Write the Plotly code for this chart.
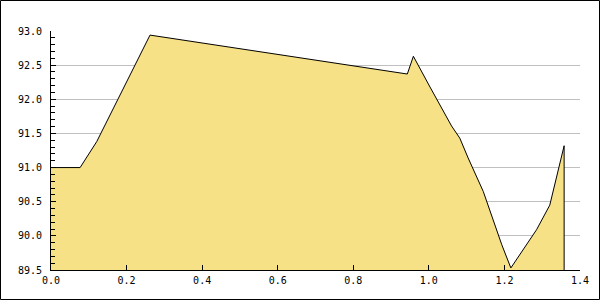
import plotly.graph_objects as go

x_vals = [0.0, 0.077, 0.121, 0.262, 0.943, 0.959, 1.003, 1.021, 1.060, 1.082,
          1.104, 1.144, 1.193, 1.217, 1.285, 1.320, 1.358, 1.358]
y_vals = [91.0, 91.0, 91.38, 92.94, 92.37, 92.63, 92.18, 92.0, 91.61, 91.43,
          91.14, 90.65, 89.87, 89.53, 90.09, 90.45, 91.32, 89.5]

x_range = [0.0, 1.4]
y_range = [89.5, 93.0]

fill_color = "rgb(247,225,134)"

fig = go.Figure()
fig.add_trace(go.Scatter(
    x=x_vals, y=y_vals, mode="lines",
    line=dict(color="black", width=1),
    fill="tozeroy", fillcolor=fill_color,
    showlegend=False, hoverinfo="skip",
))

W, H = 600, 300
ml, mr, mt, mb = 51, 20, 31, 30
pw, ph = W - ml - mr, H - mt - mb

fig.update_layout(
    width=W, height=H, autosize=False,
    margin=dict(l=ml, r=mr, t=mt, b=mb, pad=0),
    paper_bgcolor="white", plot_bgcolor="white",
    font=dict(family="DejaVu Sans Mono", size=10, color="black"),
    xaxis=dict(
        range=x_range, dtick=0.2, tick0=0, tickformat=".1f",
        ticks="inside", ticklen=5, tickcolor="black", tickwidth=1,
        showline=True, linecolor="black", linewidth=1,
        showgrid=False, zeroline=False, fixedrange=True,
        ticklabelstandoff=1,
    ),
    yaxis=dict(
        range=y_range, dtick=0.5, tick0=89.5, tickformat=".1f",
        ticks="inside", ticklen=5, tickcolor="black", tickwidth=1,
        showline=True, linecolor="black", linewidth=1,
        showgrid=True, gridcolor="rgb(192,192,192)", gridwidth=1,
        zeroline=False, fixedrange=True,
        ticklabelstandoff=6,
        minor=dict(dtick=0.1, ticks="inside", ticklen=4, tickcolor="black",
                   showgrid=False),
    ),
    shapes=[dict(
        type="rect", xref="paper", yref="paper",
        x0=(0.5 - ml) / pw, x1=(W - 0.5 - ml) / pw,
        y0=-(mb - 0.5) / ph, y1=(ph + mt - 0.5) / ph,
        line=dict(color="black", width=1), fillcolor="rgba(0,0,0,0)",
        layer="above",
    )],
)

fig.write_html("out.html", config={"displayModeBar": False})
